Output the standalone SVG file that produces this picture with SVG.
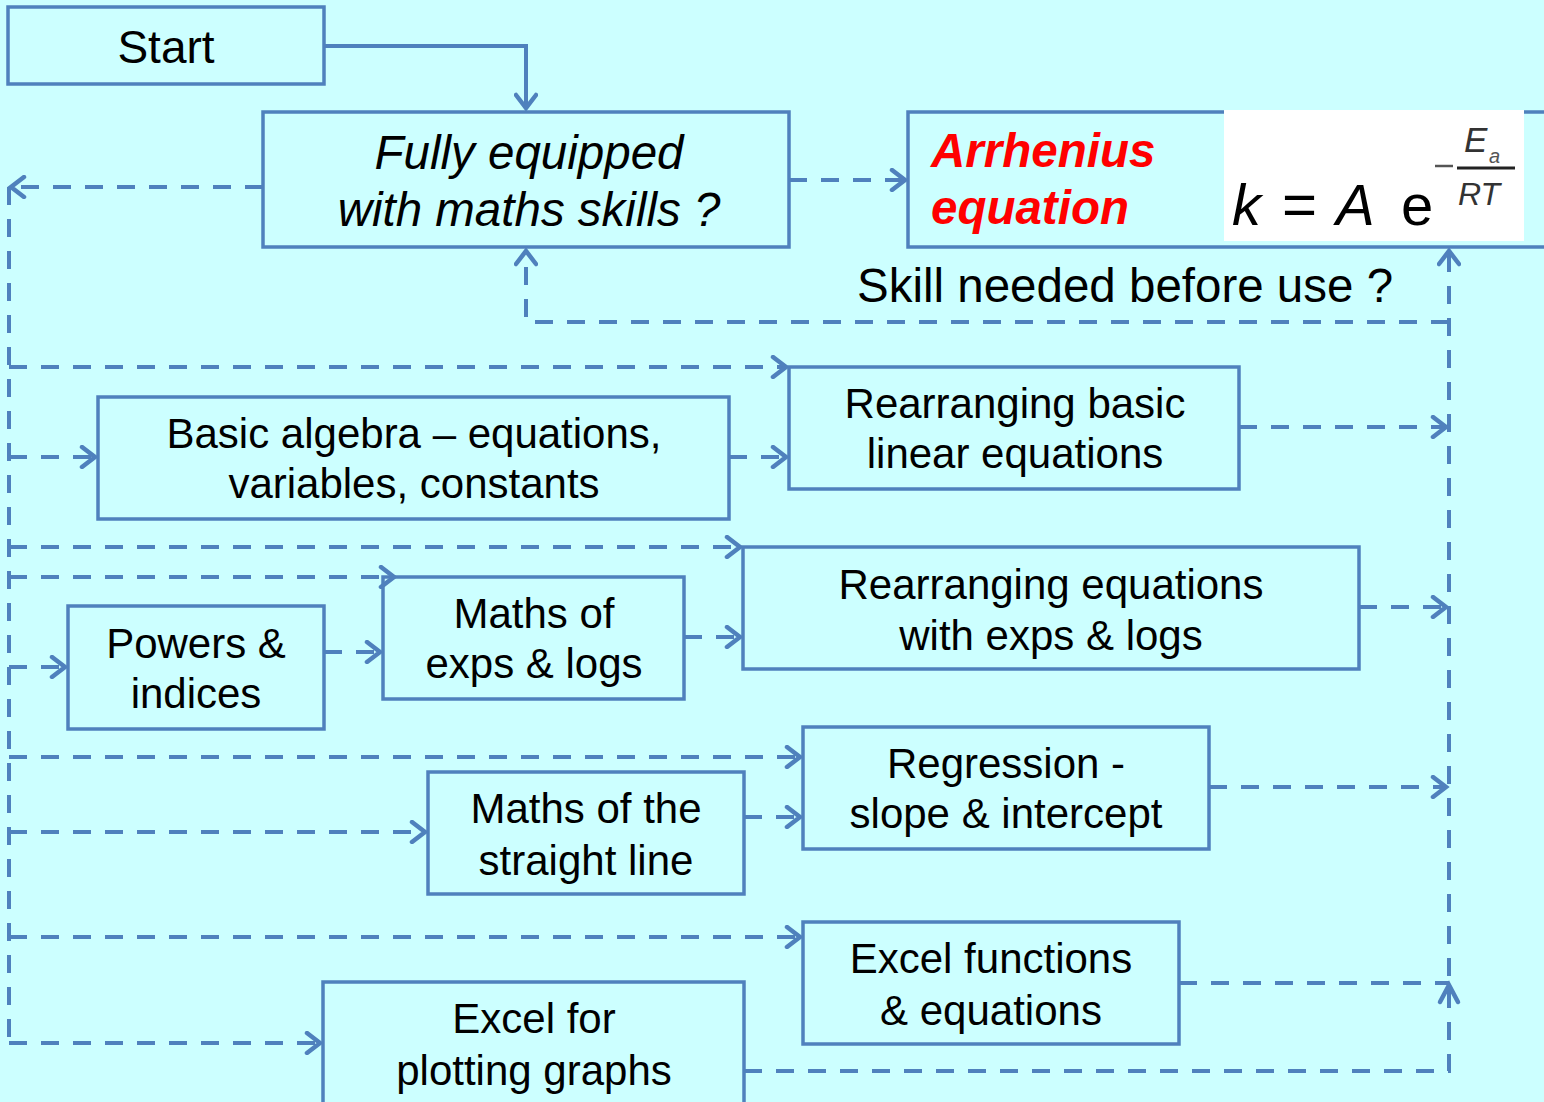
<svg xmlns="http://www.w3.org/2000/svg" width="1544" height="1102" viewBox="0 0 1544 1102">
<style>
.box{fill:none;stroke:#4F81BD;stroke-width:3.5}
.t{font-family:"Liberation Sans",Arial,sans-serif;font-size:42px;fill:#000;text-anchor:middle}
.c{fill:none;stroke:#4F81BD;stroke-width:4}
.d{fill:none;stroke:#4F81BD;stroke-width:4;stroke-dasharray:18 14}
.f{font-family:"Liberation Sans",Arial,sans-serif;fill:#000}
</style>
<defs>
<marker id="a" viewBox="-16 -12 20 24" refX="0" refY="0" markerWidth="20" markerHeight="24" markerUnits="userSpaceOnUse" orient="auto">
<path d="M-13,-10 L0,0 L-13,10" fill="none" stroke="#4F81BD" stroke-width="4.5" stroke-linecap="round" stroke-linejoin="miter"/>
</marker>
</defs>
<rect width="1544" height="1102" fill="#CCFFFF"/>

<g id="connectors">
<path class="c" d="M324,46 H526 V108" marker-end="url(#a)"/>
<path class="d" d="M263,187 H11" marker-end="url(#a)"/>
<path class="d" d="M9,187 V1043"/>
<path class="d" d="M789,180 H905" marker-end="url(#a)"/>
<path class="d" d="M744,1071 H1449 V251" marker-end="url(#a)"/>
<path class="d" d="M1449,322 H526 V251" marker-end="url(#a)"/>
<path class="d" d="M9,367 H786" marker-end="url(#a)"/>
<path class="d" d="M9,457 H95" marker-end="url(#a)"/>
<path class="d" d="M729,457 H786" marker-end="url(#a)"/>
<path class="d" d="M9,547 H740" marker-end="url(#a)"/>
<path class="d" d="M9,577 H394" marker-end="url(#a)"/>
<path class="d" d="M9,667 H65" marker-end="url(#a)"/>
<path class="d" d="M324,652 H380" marker-end="url(#a)"/>
<path class="d" d="M684,637 H740" marker-end="url(#a)"/>
<path class="d" d="M9,757 H800" marker-end="url(#a)"/>
<path class="d" d="M9,832 H425" marker-end="url(#a)"/>
<path class="d" d="M744,817 H800" marker-end="url(#a)"/>
<path class="d" d="M9,937 H800" marker-end="url(#a)"/>
<path class="d" d="M9,1043 H320" marker-end="url(#a)"/>
<path class="d" d="M1239,427 H1446" marker-end="url(#a)"/>
<path class="d" d="M1359,607 H1446" marker-end="url(#a)"/>
<path class="d" d="M1209,787 H1446" marker-end="url(#a)"/>
<path class="d" d="M1179,983 H1449"/>
<path d="M1440,1002 L1449,985 L1458,1002" fill="none" stroke="#4F81BD" stroke-width="4.5" stroke-linecap="round"/>
</g>

<g id="start">
<rect class="box" x="8" y="7" width="316" height="77"/>
<text class="t" x="166" y="63" style="font-size:46px">Start</text>
</g>

<g id="fully">
<rect class="box" x="263" y="112" width="526" height="135"/>
<text class="t" x="529" y="169" style="font-size:47.5px;font-style:italic">Fully equipped</text>
<text class="t" x="529" y="226" style="font-size:47.5px;font-style:italic">with maths skills ?</text>
</g>

<g id="arrhenius">
<rect class="box" x="908" y="112" width="650" height="135"/>
<rect x="1224" y="110" width="300" height="131" fill="#FFFFFF"/>
<text class="f" x="931" y="167" style="font-size:47.5px;font-weight:bold;font-style:italic;fill:#FF0000">Arrhenius</text>
<text class="f" x="931" y="224" style="font-size:47.5px;font-weight:bold;font-style:italic;fill:#FF0000">equation</text>
<text class="f" x="1232" y="225" style="font-size:58px;font-style:italic">k</text>
<text class="f" x="1282" y="225" style="font-size:60px">=</text>
<text class="f" x="1336" y="225" style="font-size:58px;font-style:italic">A</text>
<text class="f" x="1401" y="225" style="font-size:58px">e</text>
<line x1="1435" y1="166" x2="1453" y2="166" stroke="#555" stroke-width="2.5"/>
<line x1="1457" y1="168" x2="1515" y2="168" stroke="#222" stroke-width="3"/>
<text class="f" x="1464" y="152" style="font-size:35px;font-style:italic;fill:#333">E</text>
<text class="f" x="1489" y="163" style="font-size:20px;font-style:italic;fill:#555">a</text>
<text class="f" x="1458" y="205" style="font-size:32px;font-style:italic;fill:#333">RT</text>
</g>

<text class="f" x="857" y="302" style="font-size:47.5px">Skill needed before use ?</text>

<g id="basic-algebra">
<rect class="box" x="98" y="397" width="631" height="122"/>
<text class="t" x="414" y="448">Basic algebra – equations,</text>
<text class="t" x="414" y="498">variables, constants</text>
</g>

<g id="rearr-basic">
<rect class="box" x="789" y="367" width="450" height="122"/>
<text class="t" x="1015" y="418">Rearranging basic</text>
<text class="t" x="1015" y="468">linear equations</text>
</g>

<g id="powers">
<rect class="box" x="68" y="606" width="256" height="123"/>
<text class="t" x="196" y="658">Powers &amp;</text>
<text class="t" x="196" y="708">indices</text>
</g>

<g id="maths-exps">
<rect class="box" x="383" y="577" width="301" height="122"/>
<text class="t" x="534" y="628">Maths of</text>
<text class="t" x="534" y="678">exps &amp; logs</text>
</g>

<g id="rearr-exps">
<rect class="box" x="743" y="547" width="616" height="122"/>
<text class="t" x="1051" y="599">Rearranging equations</text>
<text class="t" x="1051" y="650">with exps &amp; logs</text>
</g>

<g id="regression">
<rect class="box" x="803" y="727" width="406" height="122"/>
<text class="t" x="1006" y="778">Regression -</text>
<text class="t" x="1006" y="828">slope &amp; intercept</text>
</g>

<g id="straight-line">
<rect class="box" x="428" y="772" width="316" height="122"/>
<text class="t" x="586" y="823">Maths of the</text>
<text class="t" x="586" y="875">straight line</text>
</g>

<g id="excel-functions">
<rect class="box" x="803" y="922" width="376" height="122"/>
<text class="t" x="991" y="973">Excel functions</text>
<text class="t" x="991" y="1025">&amp; equations</text>
</g>

<g id="excel-plotting">
<rect class="box" x="323" y="982" width="421" height="140"/>
<text class="t" x="534" y="1033">Excel for</text>
<text class="t" x="534" y="1085">plotting graphs</text>
</g>
</svg>
